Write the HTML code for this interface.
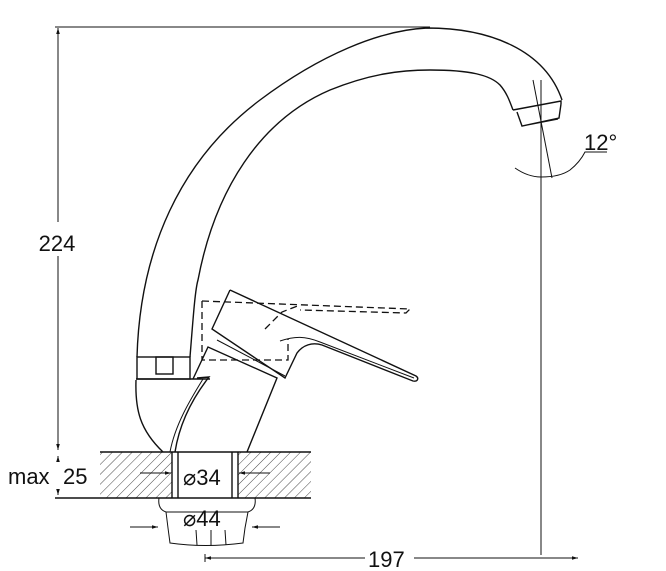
<!DOCTYPE html>
<html><head><style>html,body{margin:0;padding:0;background:#fff}svg{display:block}</style></head>
<body>
<svg width="666" height="571" viewBox="0 0 666 571" xmlns="http://www.w3.org/2000/svg">
<defs>
<pattern id="h" width="7" height="7" patternUnits="userSpaceOnUse" patternTransform="rotate(45)">
<line x1="0" y1="0" x2="0" y2="7" stroke="#333" stroke-width="0.9"/></pattern>
<marker id="a" viewBox="0 0 10 10" refX="10" refY="5" markerWidth="9" markerHeight="6" orient="auto-start-reverse"><path d="M0,2 L10,5 L0,8 z" fill="#111"/></marker>
</defs>
<g fill="none" stroke="#111" stroke-width="1.4">
<!-- dimension 224 -->
<line x1="55" y1="27" x2="430" y2="27" stroke-width="1"/>
<line x1="58" y1="28" x2="58" y2="222" stroke-width="1" marker-start="url(#a)"/>
<line x1="58" y1="256" x2="58" y2="450" stroke-width="1" marker-end="url(#a)"/>
<!-- spout -->
<path d="M137,357 C140,250 180,160 260,100 C320,55 380,30 427,28 C490,28 545,50 562,100"/>
<path d="M190,357 C193,320 195,290 198,280 C215,190 260,120 330,90 C370,74 400,70 430,70 C470,70 490,75 500,85 C507,93 510,102 513,110"/>
<path d="M513,110 L561,101 L561,104 M517,112 L522,126 L559,118 L561,104 M522,126 L558,119" />
<!-- nozzle axis & angle -->
<line x1="541" y1="80" x2="541" y2="555" stroke-width="1"/>
<line x1="533" y1="80" x2="552" y2="178" stroke-width="1"/>
<path d="M515,168 Q528,177 541,177 Q560,177 570,170 Q580,162 585,152 L607,152" stroke-width="1"/>
<!-- collar -->
<rect x="137" y="357" width="53" height="22"/>
<rect x="156" y="357" width="17" height="17"/>
<!-- bulb -->
<path d="M136,380 C135,410 140,430 163,452"/>
<line x1="136" y1="379" x2="210" y2="379"/>
<!-- left thin piece -->
<path d="M197,378 L209,377 C195,395 180,420 175,452"/>
<path d="M203,379 C190,400 175,425 170,452" stroke-width="1"/>
<!-- valve body -->
<path d="M193,379 L208,347 L277,378 L247,452"/>
<path d="M217,340 L285,376" stroke-width="1"/>
<!-- lever -->
<path d="M230,290 L212,329 L285,378 L297,353 C303,345 312,342 322,345 L413,381 C418,382 419,378 416,376 L230,290"/>
<path d="M280,341 C295,336 305,336 320,342 L414,378" stroke-width="1"/>
<!-- dashed -->
<g stroke-dasharray="7,4" stroke-width="1.3">
<path d="M202,301 L202,360 L288,360 L288,339"/>
<path d="M202,301 L410,309 L406,313 L300,310"/>
<path d="M265,329 L282,312 L300,305"/>
</g>
<!-- counter -->
<rect x="100" y="452" width="72" height="46" fill="url(#h)" stroke="none"/>
<rect x="238" y="452" width="73" height="46" fill="url(#h)" stroke="none"/>
<line x1="100" y1="452" x2="311" y2="452"/>
<line x1="55" y1="498" x2="311" y2="498"/>
<line x1="172" y1="452" x2="172" y2="498"/><line x1="178" y1="452" x2="178" y2="498"/>
<line x1="232" y1="452" x2="232" y2="498"/><line x1="238" y1="452" x2="238" y2="498"/>
<line x1="58" y1="456" x2="58" y2="460" stroke-width="1" marker-start="url(#a)"/>
<line x1="58" y1="490" x2="58" y2="495" stroke-width="1" marker-end="url(#a)"/>
<line x1="140" y1="473" x2="171" y2="473" stroke-width="1" marker-end="url(#a)"/>
<line x1="270" y1="473" x2="239" y2="473" stroke-width="1" marker-end="url(#a)"/>
<!-- nut -->
<path d="M159,498 C158,505 160,510 166,512 L248,512 C254,510 256,505 255,498" stroke-width="1"/>
<path d="M166,512 L168,528 L170,543 Q205,548 243,543 L245,528 L248,512" stroke-width="1"/>
<path d="M196,530 L197,545 M211,530 L211,546 M225,530 L226,545" stroke-width="1"/>
<line x1="130" y1="527" x2="158" y2="527" stroke-width="1" marker-end="url(#a)"/>
<line x1="280" y1="527" x2="252" y2="527" stroke-width="1" marker-end="url(#a)"/>
<!-- 197 -->
<line x1="205" y1="554" x2="205" y2="562" stroke-width="1"/>
<line x1="205" y1="558" x2="365" y2="558" stroke-width="1" marker-start="url(#a)"/>
<line x1="414" y1="558" x2="578" y2="558" stroke-width="1" marker-end="url(#a)"/>
</g>
<g font-family="Liberation Sans, sans-serif" fill="#111" font-size="22">
<rect x="36" y="230" width="44" height="24" fill="#fff"/>
<text x="57" y="251" text-anchor="middle">224</text>
<text x="8" y="484">max</text>
<text x="63" y="484">25</text>
<text x="183" y="485">⌀34</text>
<text x="183" y="526" >⌀44</text>
<text x="368" y="567">197</text>
<text x="584" y="150">12°</text>
</g>
</svg>
</body></html>
